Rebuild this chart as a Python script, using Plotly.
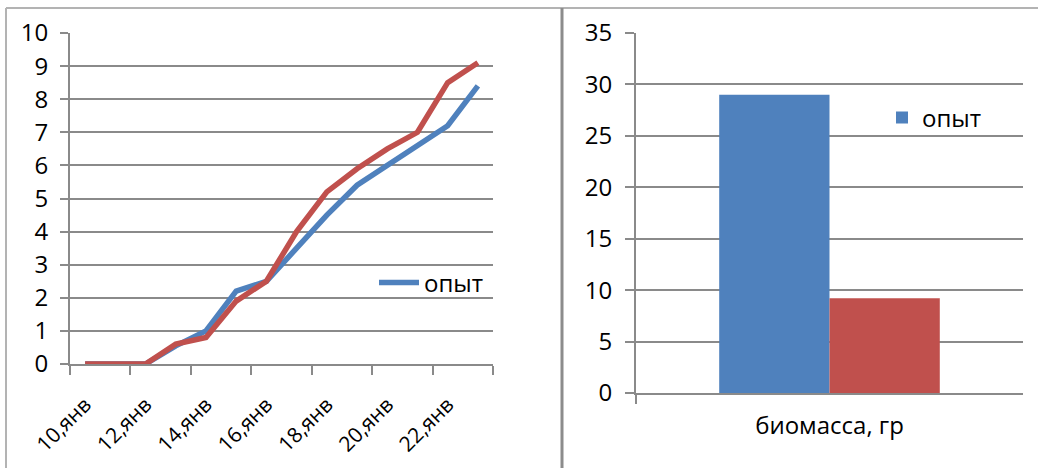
import plotly.graph_objects as go

# Daily growth observations, 10-23 January
days = ["10,янв", "11,янв", "12,янв", "13,янв", "14,янв", "15,янв", "16,янв",
        "17,янв", "18,янв", "19,янв", "20,янв", "21,янв", "22,янв", "23,янв"]
growth_opyt = [0, 0, 0, 0.55, 1.0, 2.2, 2.5, 3.5, 4.5, 5.4, 6.0, 6.6, 7.2, 8.4]
growth_second = [0, 0, 0, 0.6, 0.8, 1.9, 2.5, 4.0, 5.2, 5.9, 6.5, 7.0, 8.5, 9.1]

# Final biomass
biomass_category = ["биомасса, гр"]
biomass_opyt = [29.0]
biomass_second = [9.2]

BLUE = "#4F81BD"
RED = "#C0504D"
GRID = "#8a8a8a"
FONT = "Open Sans"
FSIZE = 24

W, H = 1038, 468


def px_x(p):
    return p / W


def px_y(p):
    return 1 - p / H


x_idx = list(range(len(days)))

fig = go.Figure()

fig.add_trace(go.Scatter(
    x=x_idx, y=growth_opyt, mode="lines", name="опыт",
    line=dict(color=BLUE, width=5.5), xaxis="x", yaxis="y", legend="legend",
))
fig.add_trace(go.Scatter(
    x=x_idx, y=growth_second, mode="lines", name="",
    line=dict(color=RED, width=5.5), xaxis="x", yaxis="y", showlegend=False,
))

fig.add_trace(go.Bar(
    x=biomass_category, y=biomass_opyt, name="опыт", marker=dict(color=BLUE, line=dict(width=0)),
    xaxis="x2", yaxis="y2", legend="legend2",
))
fig.add_trace(go.Bar(
    x=biomass_category, y=biomass_second, name="", marker=dict(color=RED, line=dict(width=0)),
    xaxis="x2", yaxis="y2", showlegend=False,
))

axis_font = dict(family=FONT, size=FSIZE, color="#000000")
date_font = dict(family=FONT, size=21, color="#000000")
boundaries = [i - 0.5 for i in range(0, len(days) + 1, 2)]

fig.update_layout(
    width=W, height=H, autosize=False,
    margin=dict(l=0, r=0, t=0, b=0),
    paper_bgcolor="white", plot_bgcolor="white",
    barmode="group", bargap=0.43, bargroupgap=0,
    font=dict(family=FONT, size=FSIZE, color="#000000"),
    xaxis=dict(
        domain=[px_x(70), px_x(493)], anchor="y", automargin=False,
        range=[-0.5, len(days) - 0.5],
        tickmode="array", tickvals=x_idx[::2], ticktext=days[::2],
        tickangle=-45, ticks="", showgrid=False, zeroline=False,
        showline=True, linecolor=GRID, linewidth=2,
        tickfont=date_font, ticklabelstandoff=18,
        minor=dict(tickmode="array", tickvals=boundaries, ticks="outside",
                   ticklen=9, tickwidth=2, tickcolor=GRID, showgrid=False),
    ),
    yaxis=dict(
        domain=[px_y(364), px_y(33)], anchor="x", automargin=False,
        range=[0, 10], dtick=1, tick0=0,
        showgrid=True, gridcolor=GRID, gridwidth=2, zeroline=False,
        showline=True, linecolor=GRID, linewidth=2,
        ticks="outside", ticklen=8, tickwidth=2, tickcolor=GRID,
        tickfont=axis_font, ticklabelstandoff=7,
    ),
    xaxis2=dict(
        domain=[px_x(636), px_x(1023)], anchor="y2", automargin=False,
        type="category", tickson="boundaries",
        ticks="outside", ticklen=9, tickwidth=2, tickcolor=GRID,
        showgrid=False, zeroline=False,
        showline=True, linecolor=GRID, linewidth=2,
        tickfont=axis_font, ticklabelstandoff=10,
    ),
    yaxis2=dict(
        domain=[px_y(393), px_y(33)], anchor="x2", automargin=False,
        range=[0, 35], dtick=5, tick0=0,
        showgrid=True, gridcolor=GRID, gridwidth=2, zeroline=False,
        showline=True, linecolor=GRID, linewidth=2,
        ticks="outside", ticklen=9, tickwidth=2, tickcolor=GRID,
        tickfont=axis_font, ticklabelstandoff=8,
    ),
    legend=dict(
        x=px_x(374), y=px_y(283), xanchor="left", yanchor="middle",
        bgcolor="rgba(0,0,0,0)", font=dict(family=FONT, size=FSIZE),
        itemwidth=40, tracegroupgap=0,
    ),
    legend2=dict(
        x=px_x(882), y=px_y(118), xanchor="left", yanchor="middle",
        bgcolor="rgba(0,0,0,0)", font=dict(family=FONT, size=FSIZE),
        itemwidth=30, tracegroupgap=0,
    ),
    shapes=[
        # chart frame
        dict(type="line", xref="paper", yref="paper", x0=px_x(6), x1=1,
             y0=px_y(8), y1=px_y(8), line=dict(color="#b3b3b3", width=2)),
        dict(type="line", xref="paper", yref="paper", x0=px_x(6), x1=px_x(6),
             y0=0, y1=px_y(8), line=dict(color="#b3b3b3", width=2)),
        dict(type="line", xref="paper", yref="paper", x0=px_x(562), x1=px_x(562),
             y0=0, y1=px_y(8), line=dict(color="#8c8c8c", width=3)),
    ],
)

fig.write_html("out.html")
